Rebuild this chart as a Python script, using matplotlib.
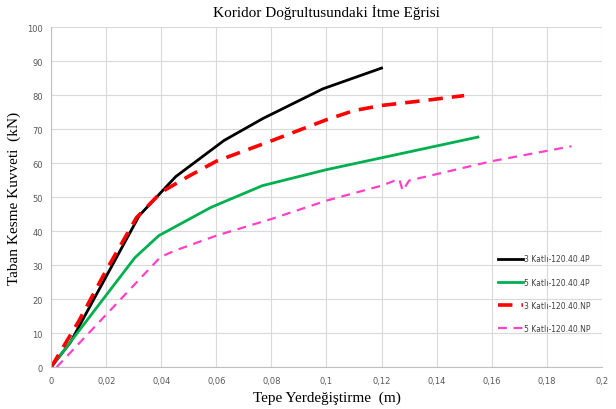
import matplotlib
matplotlib.use("Agg")
import matplotlib.pyplot as plt
from matplotlib.ticker import FuncFormatter

# veriler
x_3k_4p = [0, 0.007, 0.032, 0.0453, 0.0628, 0.077, 0.0987, 0.12]
y_3k_4p = [0, 7.3, 44.6, 56.1, 66.7, 73.2, 81.9, 88.0]

x_5k_4p = [0, 0.0304, 0.0391, 0.058, 0.0767, 0.0999, 0.12, 0.155]
y_5k_4p = [0, 32.2, 38.7, 47.0, 53.4, 58.1, 61.6, 67.7]

x_3k_np = [0, 0.01, 0.02, 0.031, 0.04, 0.05, 0.06, 0.08, 0.1, 0.11, 0.12, 0.135, 0.15]
y_3k_np = [0, 13.5, 28.5, 44.0, 51.5, 56.2, 60.6, 66.6, 72.8, 75.5, 77.0, 78.4, 79.9]

x_5k_np = [0.002, 0.0397, 0.045, 0.06, 0.08, 0.1, 0.12, 0.1264, 0.1277, 0.130, 0.160, 0.189]
y_5k_np = [0, 32.4, 34.3, 38.7, 43.6, 49.0, 53.4, 55.4, 51.9, 54.9, 60.6, 65.0]

labels = ["3 Katlı-120.40.4P", "5 Katlı-120.40.4P", "3 Katlı-120.40.NP", "5 Katlı-120.40.NP"]

x_ticks = [0, 0.02, 0.04, 0.06, 0.08, 0.1, 0.12, 0.14, 0.16, 0.18, 0.2]
y_ticks = list(range(0, 101, 10))

fig = plt.figure(figsize=(6.16, 4.10), dpi=100)
ax = fig.add_axes([0.083, 0.102, 0.894, 0.829])

ax.plot(x_3k_4p, y_3k_4p, color="black", lw=2.0, label=labels[0])
ax.plot(x_5k_4p, y_5k_4p, color="#00b050", lw=2.0, label=labels[1])
ax.plot(x_3k_np, y_3k_np, color="#ff0000", lw=2.6, dashes=(4, 2.5), label=labels[2])
ax.plot(x_5k_np, y_5k_np, color="#ff40c8", lw=1.6, dashes=(4, 3), label=labels[3])

ax.set_xlim(0, 0.2)
ax.set_ylim(0, 100)
ax.set_xticks(x_ticks)
ax.set_yticks(y_ticks)

def comma_fmt(v, pos):
    s = ("%.2f" % v).rstrip("0").rstrip(".")
    return s.replace(".", ",")

ax.xaxis.set_major_formatter(FuncFormatter(comma_fmt))
ax.tick_params(axis="both", length=0, labelsize=6, labelcolor="#595959", pad=6)
ax.grid(True, color="#d9d9d9", lw=0.8)
ax.set_axisbelow(True)
for side in ("top", "right"):
    ax.spines[side].set_visible(False)
for side in ("left", "bottom"):
    ax.spines[side].set_color("#bfbfbf")

ax.set_title("Koridor Doğrultusundaki İtme Eğrisi", fontfamily="Liberation Serif",
             fontsize=11, pad=8)
ax.set_xlabel("Tepe Yerdeğiştirme  (m)", fontfamily="Liberation Serif", fontsize=11, labelpad=4)
ax.set_ylabel("Taban Kesme Kuvveti  (kN)", fontfamily="Liberation Serif", fontsize=11, labelpad=4)

leg = ax.legend(loc="lower left", bbox_to_anchor=(0.805, 0.09), frameon=False,
                fontsize=5.5, labelspacing=1.85, handlelength=3.3, handletextpad=0.1,
                borderpad=0)
for t in leg.get_texts():
    t.set_color("#404040")

fig.savefig("out.png", dpi=100)
